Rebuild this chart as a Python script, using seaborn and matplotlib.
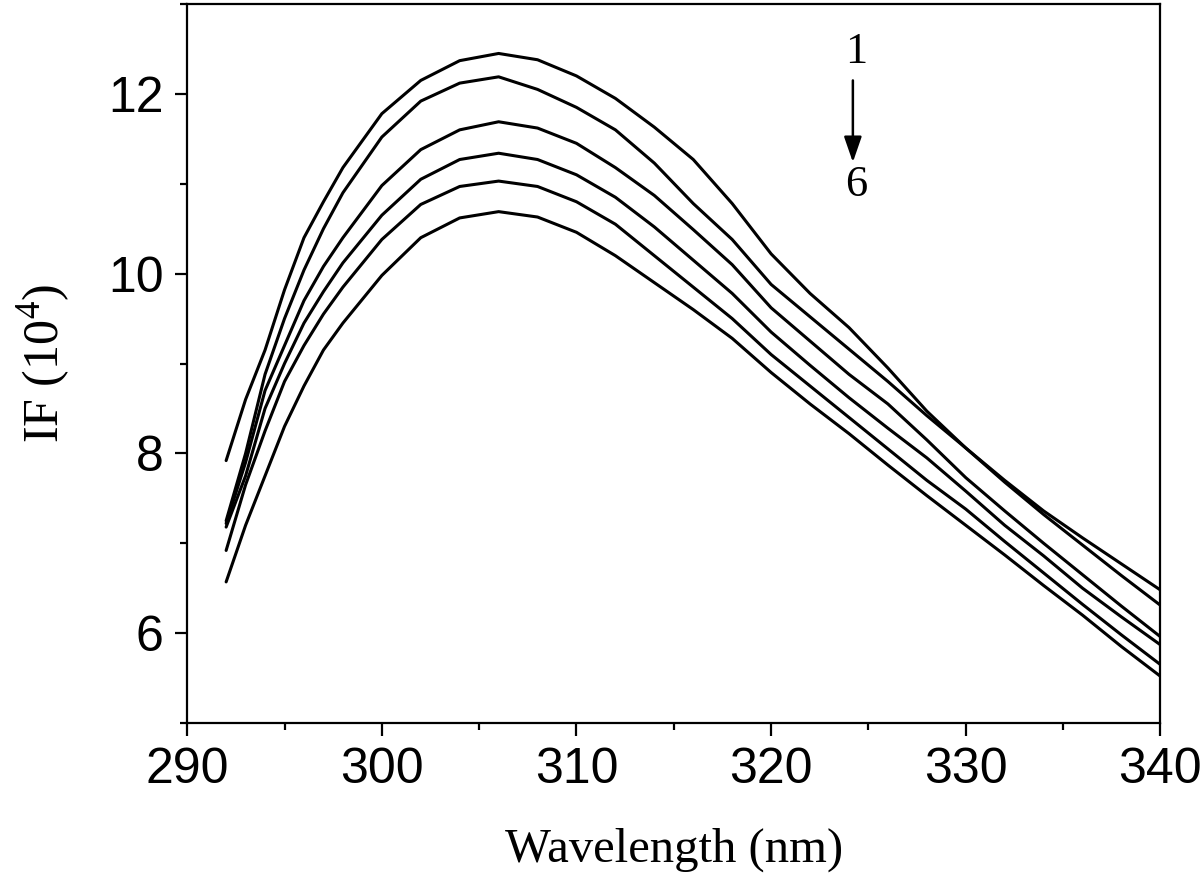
import numpy as np
import pandas as pd
import seaborn as sns
import matplotlib.pyplot as plt

wavelength = [292, 293, 294, 295, 296, 297, 298, 300, 302, 304, 306, 308, 310, 312, 314,
              316, 318, 320, 322, 324, 326, 328, 330, 332, 334, 336, 338, 340]

curve_1 = [7.92, 8.60, 9.15, 9.82, 10.40, 10.80, 11.18, 11.78, 12.15, 12.37, 12.45, 12.38, 12.20, 11.95,
           11.63, 11.27, 10.78, 10.22, 9.78, 9.40, 8.95, 8.47, 8.06, 7.68, 7.32, 6.98, 6.64, 6.31]
curve_2 = [7.25, 8.00, 8.88, 9.50, 10.04, 10.50, 10.90, 11.52, 11.92, 12.12, 12.19, 12.05, 11.85, 11.60,
           11.23, 10.78, 10.38, 9.88, 9.52, 9.16, 8.80, 8.42, 8.06, 7.70, 7.36, 7.06, 6.77, 6.48]
curve_3 = [7.22, 7.90, 8.70, 9.20, 9.70, 10.08, 10.40, 10.98, 11.38, 11.60, 11.69, 11.62, 11.45, 11.18,
           10.87, 10.49, 10.10, 9.62, 9.25, 8.88, 8.55, 8.15, 7.73, 7.36, 7.00, 6.65, 6.30, 5.96]
curve_4 = [7.18, 7.75, 8.50, 9.00, 9.45, 9.80, 10.12, 10.65, 11.05, 11.27, 11.34, 11.27, 11.10, 10.85,
           10.52, 10.15, 9.78, 9.35, 8.98, 8.62, 8.28, 7.95, 7.58, 7.20, 6.86, 6.50, 6.18, 5.87]
curve_5 = [6.92, 7.65, 8.25, 8.80, 9.20, 9.55, 9.85, 10.38, 10.77, 10.97, 11.03, 10.97, 10.80, 10.55,
           10.20, 9.85, 9.50, 9.10, 8.75, 8.40, 8.05, 7.70, 7.38, 7.02, 6.67, 6.32, 5.98, 5.65]
curve_6 = [6.57, 7.20, 7.75, 8.30, 8.75, 9.15, 9.45, 9.98, 10.40, 10.62, 10.69, 10.63, 10.46, 10.20,
           9.90, 9.60, 9.28, 8.90, 8.55, 8.22, 7.87, 7.53, 7.20, 6.87, 6.53, 6.20, 5.85, 5.52]

curves = {"1": curve_1, "2": curve_2, "3": curve_3, "4": curve_4, "5": curve_5, "6": curve_6}
df = pd.concat([pd.DataFrame({"wavelength": wavelength, "IF": vals, "curve": name})
                for name, vals in curves.items()], ignore_index=True)

sns.set_theme(style="ticks")
plt.rcParams['font.family'] = ['Liberation Sans', 'DejaVu Sans']
plt.rcParams['mathtext.fontset'] = 'custom'
plt.rcParams['mathtext.rm'] = 'Liberation Serif'
plt.rcParams['text.color'] = 'black'
plt.rcParams['axes.labelcolor'] = 'black'

fig = plt.figure(figsize=(12, 8.77), dpi=100)
ax = fig.add_axes([0.156, 0.1756, 0.811, 0.8198])

sns.lineplot(data=df, x="wavelength", y="IF", hue="curve", palette=["black"] * 6,
             linewidth=2.2, legend=False, ax=ax)

ax.set_xlim(290, 340)
ax.set_ylim(5, 13)
ax.set_xticks([290, 300, 310, 320, 330, 340])
ax.set_xticks([295, 305, 315, 325, 335], minor=True)
ax.set_yticks([6, 8, 10, 12])
ax.set_yticks([5, 7, 9, 11, 13], minor=True)

for side in ax.spines.values():
    side.set_linewidth(1.6)
    side.set_color('black')
ax.tick_params(which='major', length=9, width=1.6, labelsize=36, pad=8, colors='black')
ax.tick_params(which='minor', length=5, width=1.6, colors='black')

ax.set_xlabel("Wavelength (nm)", family='Liberation Serif', fontsize=35, labelpad=25)
ax.set_ylabel("IF (10$^{4}$)", family='Liberation Serif', fontsize=36, labelpad=25)

# quenching order annotation
ax.text(324.35, 12.47, "1", family='Liberation Serif', fontsize=32, ha='center', va='center')
ax.text(324.35, 10.99, "6", family='Liberation Serif', fontsize=32, ha='center', va='center')
ax.annotate("", xy=(324.2, 11.24), xytext=(324.2, 12.15),
            arrowprops=dict(arrowstyle='-|>,head_width=0.45,head_length=1.3', color='black', lw=1.8,
                            shrinkA=0, shrinkB=0))

fig.savefig("out.png", dpi=100)
